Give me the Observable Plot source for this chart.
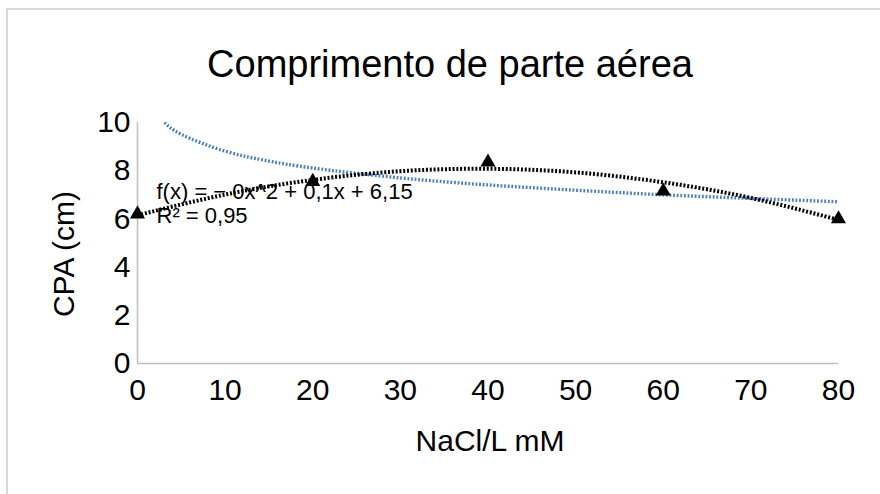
<!DOCTYPE html>
<html>
<head>
<meta charset="utf-8">
<script src="https://cdn.jsdelivr.net/npm/d3@7"></script>
<script src="https://cdn.jsdelivr.net/npm/@observablehq/plot@0.6"></script>
<style>
  html, body { margin: 0; padding: 0; background: #fff; }
  #wrap { position: relative; width: 880px; height: 494px; overflow: hidden; background: #fff;
          font-family: "Liberation Sans", Arial, sans-serif; }
  #frame { position: absolute; left: 6px; top: 8px; width: 1000px; height: 1000px;
           border-top: 2px solid #d9d9d9; border-left: 2px solid #d9d9d9; box-sizing: border-box; }
  #title { position: relative; height: 100px; box-sizing: border-box; padding-top: 45px; padding-left: 20px;
           text-align: center; font-size: 38px; line-height: 38px; color: #000; }
  #chart { position: relative; height: 394px; }
</style>
</head>
<body>
<div id="wrap">
  <div id="frame"></div>
  <div id="title"></div>
  <div id="chart"></div>
</div>
<script>
// ---- data ----
const titleText = "Comprimento de parte aérea";
const xLabel = "NaCl/L mM";
const yLabel = "CPA (cm)";
const nacl = [0, 20, 40, 60, 80];
const cpa = [6.2, 7.55, 8.35, 7.15, 6.0];
const xTicks = [0, 10, 20, 30, 40, 50, 60, 70, 80];
const yTicks = [0, 2, 4, 6, 8, 10];
// black dotted polynomial trendline
const polyX = [0, 10, 20, 30, 40, 50, 60, 70, 80];
const polyY = [6.15, 7.01, 7.62, 7.98, 8.08, 7.93, 7.52, 6.87, 5.96];
// blue dotted trendline
const blueX = [3.1, 5, 10, 15, 20, 30, 40, 50, 60, 70, 80];
const blueY = [10.0, 9.51, 8.81, 8.40, 8.11, 7.70, 7.41, 7.19, 7.00, 6.85, 6.71];
const eqLine1 = "f(x) = − 0x^2 + 0,1x + 6,15";
const eqLine2 = "R² = 0,95";

// ---- tables built from the arrays ----
const points = nacl.map((x, i) => ({x, y: cpa[i]}));
const poly = polyX.map((x, i) => ({x, y: polyY[i]}));
const blue = blueX.map((x, i) => ({x, y: blueY[i]}));

document.getElementById("title").textContent = titleText;

const font = "'Liberation Sans', Arial, sans-serif";
const chart = Plot.plot({
  width: 880,
  height: 394,
  marginTop: 22,
  marginBottom: 131,
  marginLeft: 137,
  marginRight: 42,
  style: {fontFamily: font, fontSize: "30px", color: "#000", background: "transparent", overflow: "visible"},
  x: {domain: [0, 80], ticks: xTicks, tickSize: 0, tickPadding: 15, label: null, tickFormat: d => String(d)},
  y: {domain: [0, 10], ticks: yTicks, tickSize: 0, tickPadding: 7, label: null, tickFormat: d => String(d)},
  marks: [
    Plot.ruleX([0], {stroke: "#bfbfbf", strokeWidth: 1.5}),
    Plot.ruleY([0], {stroke: "#bfbfbf", strokeWidth: 1.5}),
    Plot.text([eqLine1], {frameAnchor: "top-left", dx: 19, dy: 69, textAnchor: "start", lineAnchor: "middle", fontSize: 22, fill: "#000"}),
    Plot.text([eqLine2], {frameAnchor: "top-left", dx: 19, dy: 93, textAnchor: "start", lineAnchor: "middle", fontSize: 22, fill: "#000"}),
    Plot.line(blue, {x: "x", y: "y", curve: "natural", stroke: "#4a7dbf", strokeWidth: 3.4, strokeDasharray: "1.8 1.8", strokeLinecap: "butt", clip: true}),
    Plot.line(poly, {x: "x", y: "y", curve: "natural", stroke: "#000", strokeWidth: 4, strokeDasharray: "2 1.8", strokeLinecap: "butt"}),
    Plot.dot(points, {x: "x", y: "y", symbol: "triangle", r: 5.6, fill: "#000", stroke: "none"}),
    Plot.text([yLabel], {frameAnchor: "left", dx: -73, dy: 11, rotate: -90, textAnchor: "middle", lineAnchor: "middle", fontSize: 30, fill: "#000"}),
    Plot.text([xLabel], {frameAnchor: "bottom", dx: 2, dy: 78, textAnchor: "middle", lineAnchor: "middle", fontSize: 30, fill: "#000"})
  ]
});
document.getElementById("chart").appendChild(chart);
</script>
</body>
</html>
